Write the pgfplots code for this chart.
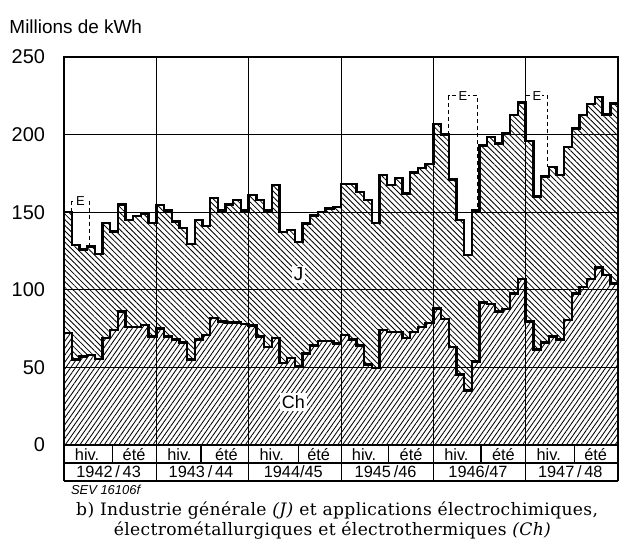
\documentclass[border=0pt]{standalone}
\usepackage{pgfplots}
\pgfplotsset{compat=1.18}
\usepackage{pgfplotstable}
\usetikzlibrary{patterns.meta}
\usepackage{fontspec}
\setmainfont{Liberation Sans}
\newfontfamily\capfont[LetterSpace=2]{DejaVu Serif}
\pgfplotstableread{
m T C
0 150 72
1 129 55
2 126 57
3 128 58
4 123 55.5
5 143 69
6 137.5 74
7 155 86
8 145 76
9 147.5 76
10 149 77.5
11 143 70
12 154.6 75
13 151 70
14 144 68
15 140 66
16 129.5 55
17 145 68
18 141 71
19 159 82
20 151 79.5
21 155 79
22 158 79
23 151 78
24 161 77
25 158 70
26 151 63
27 167.5 69
28 137.4 53
29 138.5 56
30 131 50.5
31 142.8 59
32 148 64
33 150.3 67
34 152.5 67
35 153.5 65.5
36 168 71
37 168 68
38 163 64
39 158 52
40 143 49.5
41 174 74
42 167.5 73
43 172 73
44 162 69
45 175.7 73
46 178.3 76
47 181 78.5
48 207 88
49 200 81
50 171 63
51 145 45.5
52 122.4 35
53 151 53.7
54 193 91.7
55 198.6 91
56 194.3 86
57 200.8 87.5
58 212.6 97.7
59 220.6 107
60 196 79.5
61 160 61.6
62 173 66
63 179 70
64 174 68
65 192 80.5
66 204 97.7
67 212.6 102
68 219.7 107
69 224.4 114.5
70 213 109.5
71 220 104
72 220 104
}\data
\begin{document}
\begin{tikzpicture}
\begin{axis}[
  scale only axis, width=277bp, height=194bp,
  xmin=0, xmax=72, ymin=0, ymax=250,
  clip=false, axis on top,
  xtick=\empty,
  ytick={0,50,100,150,200,250},
  ymajorgrids, grid style={line width=0.5pt, black},
  major tick length=0pt,
  axis line style={line width=0.6pt},
  /pgf/number format/assume math mode=true,
  yticklabel style={font=\fontsize{10}{11}\selectfont, xshift=-6bp},
]
\addplot[const plot mark left, draw=none, pattern={Lines[angle=-45,distance=2pt,line width=0.42pt]}] table[x=m,y=T]{\data} \closedcycle;
\addplot[const plot mark left, draw=none, fill=white] table[x=m,y=C]{\data} \closedcycle;
\addplot[const plot mark left, draw=none, pattern={Lines[angle=55,distance=2pt,line width=0.42pt]}] table[x=m,y=C]{\data} \closedcycle;
\addplot[const plot mark left, line width=1.2pt, black] table[x=m,y=T]{\data};
\addplot[const plot mark left, line width=1.2pt, black] table[x=m,y=C]{\data};
% E boxes
\addplot[black, line width=0.5pt, dash pattern=on 2pt off 1.5pt] coordinates {(1,150) (1,157) (3.3,157) (3.3,128)};
\addplot[black, line width=0.5pt, dash pattern=on 2pt off 1.5pt] coordinates {(50,200) (50,225) (53.7,225) (53.7,151)};
\addplot[black, line width=0.5pt, dash pattern=on 2pt off 1.5pt] coordinates {(60,220.6) (60,225) (62.9,225) (62.9,179)};
\node[fill=white, inner sep=0.6pt, font=\fontsize{6.5}{7}\selectfont] at (axis cs:2.15,157) {E};
\node[fill=white, inner sep=0.6pt, font=\fontsize{6.5}{7}\selectfont] at (axis cs:51.85,225) {E};
\node[fill=white, inner sep=0.6pt, font=\fontsize{6.5}{7}\selectfont] at (axis cs:61.45,225) {E};
% labels
\node[fill=white, inner sep=1pt, font=\fontsize{9.5}{10}\selectfont] at (axis cs:30.5,110) {J};
\node[fill=white, inner sep=1pt, font=\fontsize{9}{10}\selectfont] at (axis cs:29.8,27.7) {Ch};
% frame and table
\draw[line width=0.5pt] (axis cs:12,-23.2) -- (axis cs:12,250);
\draw[line width=0.5pt] (axis cs:24,-23.2) -- (axis cs:24,250);
\draw[line width=0.5pt] (axis cs:36,-23.2) -- (axis cs:36,250);
\draw[line width=0.5pt] (axis cs:48,-23.2) -- (axis cs:48,250);
\draw[line width=0.5pt] (axis cs:60,-23.2) -- (axis cs:60,250);
\draw[line width=0.7pt] (axis cs:72,-23.2) -- (axis cs:72,250);
\draw[line width=1.3pt] (axis cs:0,-23.2) -- (axis cs:0,250);
\draw[line width=1.1pt] (axis cs:0,0) -- (axis cs:72,0);
\draw[line width=0.6pt] (axis cs:0,-11.6) -- (axis cs:72,-11.6);
\draw[line width=1pt] (axis cs:0,-23.2) -- (axis cs:72,-23.2);
\draw[line width=0.6pt] (axis cs:6.3,-11.6) -- (axis cs:6.3,0);
\draw[line width=0.6pt] (axis cs:17.8,-11.6) -- (axis cs:17.8,0);
\draw[line width=0.6pt] (axis cs:30.5,-11.6) -- (axis cs:30.5,0);
\draw[line width=0.6pt] (axis cs:42.2,-11.6) -- (axis cs:42.2,0);
\draw[line width=0.6pt] (axis cs:54.2,-11.6) -- (axis cs:54.2,0);
\draw[line width=0.6pt] (axis cs:66.3,-11.6) -- (axis cs:66.3,0);
\node[font=\fontsize{8.2}{9}\selectfont] at (axis cs:3,-6.1) {hiv.};
\node[font=\fontsize{8.2}{9}\selectfont] at (axis cs:15,-6.1) {hiv.};
\node[font=\fontsize{8.2}{9}\selectfont] at (axis cs:27,-6.1) {hiv.};
\node[font=\fontsize{8.2}{9}\selectfont] at (axis cs:39,-6.1) {hiv.};
\node[font=\fontsize{8.2}{9}\selectfont] at (axis cs:51,-6.1) {hiv.};
\node[font=\fontsize{8.2}{9}\selectfont] at (axis cs:63,-6.1) {hiv.};
\node[font=\fontsize{8.2}{9}\selectfont] at (axis cs:9.1,-6.1) {été};
\node[font=\fontsize{8.2}{9}\selectfont] at (axis cs:21.1,-6.1) {été};
\node[font=\fontsize{8.2}{9}\selectfont] at (axis cs:33.1,-6.1) {été};
\node[font=\fontsize{8.2}{9}\selectfont] at (axis cs:45.1,-6.1) {été};
\node[font=\fontsize{8.2}{9}\selectfont] at (axis cs:57.1,-6.1) {été};
\node[font=\fontsize{8.2}{9}\selectfont] at (axis cs:69.1,-6.1) {été};
\node[font=\fontsize{8.2}{9}\selectfont] at (axis cs:5.8,-17.4) {1942\,/\,43};
\node[font=\fontsize{8.2}{9}\selectfont] at (axis cs:17.8,-17.4) {1943\,/\,44};
\node[font=\fontsize{8.2}{9}\selectfont] at (axis cs:29.8,-17.4) {1944/45};
\node[font=\fontsize{8.2}{9}\selectfont] at (axis cs:41.8,-17.4) {1945\,/46};
\node[font=\fontsize{8.2}{9}\selectfont] at (axis cs:53.8,-17.4) {1946/47};
\node[font=\fontsize{8.2}{9}\selectfont] at (axis cs:65.8,-17.4) {1947\,/\,48};
\node[anchor=west, font=\fontsize{9.5}{11}\selectfont] at (axis cs:-8.0,269.3) {Millions de kWh};
\node[anchor=west, font=\fontsize{6.5}{7}\selectfont\itshape] at (axis cs:0.0,-29) {SEV 16106f};
\node[font=\capfont\fontsize{8.6}{10}\selectfont] at (axis cs:35.5,-42.4) {b) Industrie générale \textit{(J)} et applications électrochimiques,};
\node[font=\capfont\fontsize{8.6}{10}\selectfont] at (axis cs:34.9,-54.8) {électrométallurgiques et électrothermiques \textit{(Ch)}};
\end{axis}
\pgfresetboundingbox
\path[use as bounding box] ([xshift=-32bp,yshift=-46.5bp]current axis.south west) rectangle ([xshift=1bp,yshift=28.5bp]current axis.north east);
\end{tikzpicture}
\end{document}
